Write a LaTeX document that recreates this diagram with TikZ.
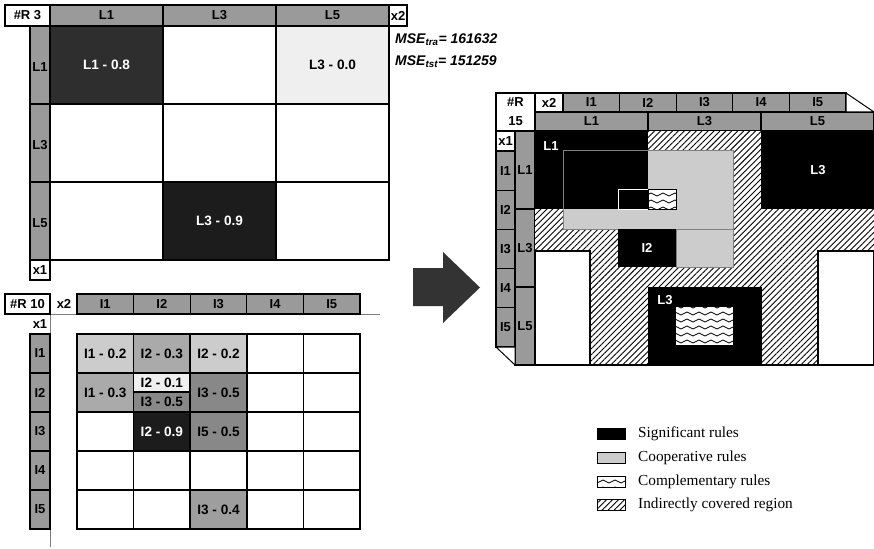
\documentclass[tikz,border=0pt]{standalone}
\usepackage{fontspec}
\setmainfont{Liberation Serif}
\setsansfont{Liberation Sans}
\usetikzlibrary{patterns, patterns.meta}

\definecolor{hdrgray}{HTML}{9A9A9A}
\definecolor{darkA}{HTML}{2E2E2E}
\definecolor{darkB}{HTML}{1C1C1C}
\definecolor{paleF}{HTML}{EFEFEF}
\definecolor{lightC}{HTML}{CCCCCC}
\definecolor{midA}{HTML}{AAAAAA}
\definecolor{midB}{HTML}{888888}
\definecolor{midC}{HTML}{9E9E9E}
\definecolor{arrowgray}{HTML}{333333}

% wave tile for the complementary rules
\pgfdeclarepatternformonly{ruleswaves}{\pgfpoint{-1pt}{-1pt}}{\pgfpoint{13pt}{8pt}}{\pgfpoint{12pt}{7pt}}{%
  \pgfsetlinewidth{0.7pt}%
  \pgfpathmoveto{\pgfpoint{0pt}{3.5pt}}%
  \pgfpathcurveto{\pgfpoint{2pt}{5.5pt}}{\pgfpoint{4pt}{5.5pt}}{\pgfpoint{6pt}{3.5pt}}%
  \pgfpathcurveto{\pgfpoint{8pt}{1.5pt}}{\pgfpoint{10pt}{1.5pt}}{\pgfpoint{12pt}{3.5pt}}%
  \pgfusepath{stroke}}

\begin{document}
\begin{tikzpicture}[x=1pt, y=-1pt,
    lbl/.style={font=\sffamily\bfseries\fontsize{13}{15}\selectfont, inner sep=0pt},
    val/.style={font=\sffamily\bfseries\fontsize{13.6}{15}\selectfont, inner sep=0pt},
    mse/.style={font=\sffamily\bfseries\itshape\fontsize{14}{16}\selectfont, inner sep=0pt, anchor=west},
    hdr/.style={draw, line width=1.2pt, fill=hdrgray},
    plain/.style={draw, line width=1.2pt, fill=white},
    cellbox/.style={draw, line width=1.5pt},
    signif/.style={fill=black},
    coop/.style={fill=lightC},
    hatch/.style={pattern={Lines[angle=45, distance=4.2pt, line width=0.9pt]}},
    wavy/.style={pattern=ruleswaves},
    legendtxt/.style={font=\fontsize{15.3}{17}\selectfont, anchor=west, inner sep=0pt}]

    \useasboundingbox (0,0) rectangle (874,548);

    % 1. Upper grid: three coarse labels
    \draw[plain] (5,5) rectangle (50,26);
    \node[lbl] (rulesA) at (27.5,15.5) {\#R 3};
    \draw[plain] (389,5) rectangle (407,26);
    \node[lbl] (xtwoA) at (398,15.5) {x2};
    \draw[plain] (30,260) rectangle (50,280);
    \node[lbl] (xoneA) at (40,270) {x1};
    \foreach \lab [count=\i from 0] in {L1,L3,L5} {
        \draw[hdr] ({50+113*\i},5) rectangle +(113,21);
        \node[lbl] (colA\i) at ({106.5+113*\i},15.5) {\lab};
        \draw[hdr] (30,{26+78*\i}) rectangle +(20,78);
        \node[lbl] (rowA\i) at (40,{67+78*\i}) {\lab};
    }
    \foreach \r in {0,1,2} {
        \foreach \c in {0,1,2} {
            \draw[cellbox] ({50+113*\c},{26+78*\r}) rectangle +(113,78);
        }
    }
    \foreach \r/\c/\tone/\ink/\txt in {
        0/0/darkA/white/L1 - 0.8,
        0/2/paleF/black/L3 - 0.0,
        2/1/darkB/white/L3 - 0.9%
    } {
        \draw[cellbox, fill=\tone] ({50+113*\c},{26+78*\r}) rectangle +(113,78);
        \node[val, text=\ink] (cellA\r\c) at ({106.5+113*\c},{65+78*\r}) {\txt};
    }
    \node[mse] (mseTra) at (395,40) {MSE\textsubscript{tra}= 161632};
    \node[mse] (mseTst) at (395,62) {MSE\textsubscript{tst}= 151259};

    % 2. Lower grid: five fine labels
    \coordinate (frameB) at (50,547);
    \coordinate (frameC) at (380,314);
    \draw[gray, line width=0.8pt] (frameB) -- (50,314) -- (frameC);
    \draw[plain] (5,294) rectangle (50,314);
    \node[lbl] (rulesB) at (27.5,304) {\#R 10};
    \node[lbl] (xtwoB) at (64,304) {x2};
    \node[lbl] (xoneB) at (40,324) {x1};
    \foreach \lab [count=\i from 0] in {I1,I2,I3,I4,I5} {
        \draw[hdr] ({77+56.6*\i},294) rectangle +(56.6,20);
        \node[lbl] (colB\i) at ({105.3+56.6*\i},304) {\lab};
        \draw[hdr] (30,{334+39*\i}) rectangle +(20,39);
        \node[lbl] (rowB\i) at (40,{353.5+39*\i}) {\lab};
    }
    \foreach \r in {0,...,4} {
        \foreach \c in {0,...,4} {
            \draw[cellbox] ({77+56.6*\c},{334+39*\r}) rectangle +(56.6,39);
        }
    }
    \foreach \r/\c/\tone/\ink/\txt in {
        0/0/lightC/black/I1 - 0.2,
        0/1/midA/black/I2 - 0.3,
        0/2/lightC/black/I2 - 0.2,
        1/0/midA/black/I1 - 0.3,
        1/2/midB/black/I3 - 0.5,
        2/1/darkB/white/I2 - 0.9,
        2/2/midB/black/I5 - 0.5,
        4/2/midC/black/I3 - 0.4%
    } {
        \draw[cellbox, fill=\tone] ({77+56.6*\c},{334+39*\r}) rectangle +(56.6,39);
        \node[val, text=\ink] (cellB\r\c) at ({105.3+56.6*\c},{353.5+39*\r}) {\txt};
    }
    % split cell (I2, I2)
    \draw[cellbox, fill=paleF] (133.6,373) rectangle (190.2,392);
    \draw[cellbox, fill=midB] (133.6,392) rectangle (190.2,412);
    \node[val] (cellB11a) at (161.9,382.5) {I2 - 0.1};
    \node[val] (cellB11b) at (161.9,402) {I3 - 0.5};

    % 3. Arrow between the two views
    \fill[arrowgray] (413,268) -- (443,268) -- (443,252) -- (480,287.5)
        -- (443,323) -- (443,306) -- (413,306) -- cycle;

    % 4. Refined view: headers
    \draw[plain] (496,93) rectangle (535,131);
    \node[lbl] (rulesC) at (515.5,102) {\#R};
    \node[lbl] (countC) at (515.5,121) {15};
    \draw[plain] (535,93) rectangle (563,112);
    \node[lbl] (xtwoC) at (549,102.5) {x2};
    \draw[plain] (496,131) rectangle (515,151);
    \node[lbl] (xoneC) at (505.5,141) {x1};
    \foreach \lab [count=\i from 0] in {I1,I2,I3,I4,I5} {
        \draw[hdr] ({563+56.6*\i},93) rectangle +(56.6,19);
        \node[lbl] (colC\i) at ({591.3+56.6*\i},102.5) {\lab};
        \draw[hdr] (496,{151+39.2*\i}) rectangle +(19,39.2);
        \node[lbl] (rowC\i) at (505.5,{170.6+39.2*\i}) {\lab};
    }
    \foreach \lab [count=\i from 0] in {L1,L3,L5} {
        \draw[hdr] ({535+113*\i},112) rectangle +(113,19);
        \node[lbl] (colD\i) at ({591.5+113*\i},121.5) {\lab};
        \draw[hdr] (515,{131+78*\i}) rectangle +(20,78);
        \node[lbl] (rowD\i) at (525,{170+78*\i}) {\lab};
    }
    \draw[plain, line width=1pt] (846,93) -- (874,112) -- (846,112) -- cycle;
    \draw[plain, line width=1pt] (496,347) -- (515,365) -- (515,347) -- cycle;

    % 5. Refined view: covered regions
    \fill[white] (535,131) rectangle (874,365);
    \fill[hatch] (535,131) rectangle (874,365);
    \draw[plain] (535,251) rectangle (590,365);
    \draw[plain] (818,251) rectangle (874,365);
    \draw[fill=lightC, draw=gray, line width=0.8pt] (563,150) -- (733,150) -- (733,267)
        -- (676,267) -- (676,229) -- (563,229) -- cycle;
    \fill[black] (535,131) rectangle (648,209);
    \draw[gray, line width=0.8pt] (563,209) -- (563,150) -- (648,150);
    \draw[gray, line width=0.8pt] (676,229) -- (733,229);
    \fill[black] (761,131) rectangle (874,209);
    \draw[white, line width=0.8pt] (618,189) rectangle (648,209);
    \draw[fill=white, line width=0.6pt] (648,189) rectangle (676,209);
    \fill[wavy] (648,189) rectangle (676,209);
    \fill[black] (618,229) rectangle (676,267);
    \fill[black] (648,287) rectangle (762,365);
    \fill[white] (676,307) rectangle (733,345);
    \fill[wavy] (676,307) rectangle (733,345);
    \draw[line width=1.2pt] (535,365) -- (874,365);
    \node[lbl, text=white] (sigL1) at (551,146) {L1};
    \node[lbl, text=white] (sigL3) at (818,170) {L3};
    \node[lbl, text=white] (sigI2) at (647,248) {I2};
    \node[lbl, text=white] (sigL3b) at (665,300) {L3};

    % 6. Legend
    \foreach \y/\kind/\txt in {
        428/signif/Significant rules,
        452/coop/Cooperative rules,
        476/wavy/Complementary rules,
        499/hatch/Indirectly covered region%
    } {
        \draw[fill=white, line width=0.6pt] (597,\y) rectangle +(28,11);
        \path[\kind] (597,\y) rectangle +(28,11);
        \draw[line width=0.6pt] (597,\y) rectangle +(28,11);
        \node[legendtxt] (key\y) at (638,{\y+6}) {\txt};
    }

\end{tikzpicture}
\end{document}
